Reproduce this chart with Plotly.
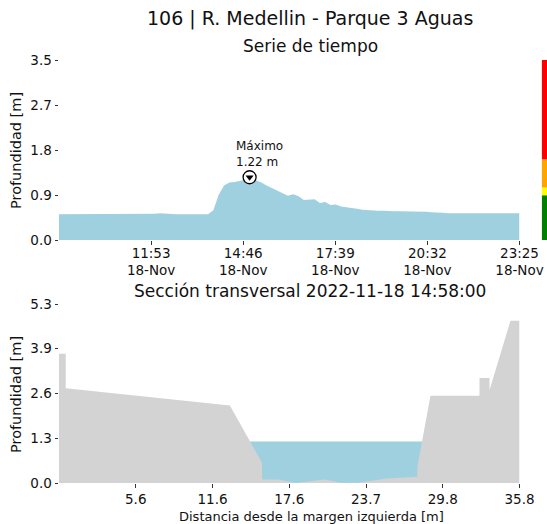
import pandas as pd
import numpy as np
import plotly.graph_objects as go

# ---------------- data ----------------
station_title = "106 | R. Medellin - Parque 3 Aguas"
ts_title = "Serie de tiempo"
xs_title = "Sección transversal 2022-11-18 14:58:00"

ts_times = sorted(
    list(pd.date_range("2022-11-18 09:00", "2022-11-18 23:20", freq="10min"))
    + [pd.Timestamp("2022-11-18 14:58"), pd.Timestamp("2022-11-18 23:25")]
)
ts_depth = [
    0.50, 0.50, 0.50, 0.51, 0.51, 0.51,
    0.51, 0.51, 0.50, 0.50, 0.50, 0.50,
    0.50, 0.50, 0.50, 0.50, 0.50, 0.51,
    0.51, 0.52, 0.51, 0.51, 0.50, 0.50,
    0.50, 0.49, 0.49, 0.49, 0.50, 0.58,
    0.88, 1.06, 1.12, 1.13, 1.15, 1.17, 1.22,
    1.18, 1.16, 1.12, 1.06, 1.01, 0.95,
    0.91, 0.86, 0.89, 0.85, 0.78, 0.79,
    0.79, 0.72, 0.74, 0.68, 0.69, 0.65,
    0.64, 0.63, 0.61, 0.59, 0.58, 0.58,
    0.57, 0.57, 0.56, 0.56, 0.56, 0.56,
    0.55, 0.55, 0.55, 0.55, 0.54, 0.54,
    0.53, 0.52, 0.52, 0.52, 0.52, 0.52,
    0.52, 0.52, 0.52, 0.52, 0.52, 0.52,
    0.52, 0.52, 0.52, 0.52,
]
peak_time = pd.Timestamp("2022-11-18 14:58")
peak_depth = 1.22

time_ticks = ["2022-11-18 11:53", "2022-11-18 14:46", "2022-11-18 17:39",
              "2022-11-18 20:32", "2022-11-18 23:25"]
time_tick_labels = ["11:53<br>18-Nov", "14:46<br>18-Nov", "17:39<br>18-Nov",
                    "20:32<br>18-Nov", "23:25<br>18-Nov"]
ts_range = ["2022-11-18 09:00", "2022-11-18 23:25"]
ts_ymax = 3.5
ts_ytick_labels = ["0.0", "0.9", "1.8", "2.7", "3.5"]

# alert levels (colour bar)
level_bounds = [0.0, 0.87, 1.02, 1.57, 3.5]
level_colors = ["#008000", "#ffff00", "#ffa500", "#ff0000"]

# cross section
xs_dist = [-0.45, -0.45, 0.08, 0.08, 13.0, 15.52, 15.55, 16.81, 18.15, 20.51,
           21.7, 23.03, 25.4, 27.76, 27.76, 28.79, 32.65, 32.65, 33.44, 33.44,
           35.09, 35.8, 35.8]
xs_elev = [0.0, 3.79, 3.79, 2.78, 2.27, 0.60, 0.10, 0.10, 0.0, 0.10,
           0.01, 0.01, 0.13, 0.18, 0.48, 2.56, 2.56, 3.08, 3.08, 2.73,
           4.76, 4.76, 0.0]
water_level = 1.22
water_extent = [13.0, 29.0]
xs_xmin, xs_xmax = -0.45, 35.8
xs_ymax = 5.25
xs_ytick_labels = ["0.0", "1.3", "2.6", "3.9", "5.3"]
xs_xtick_labels = ["5.6", "11.6", "17.6", "23.7", "29.8", "35.8"]

# ---------------- layout helpers ----------------
W, H = 547, 524
ML, MR, MT, MB = 59, 0, 60, 41
PW, PH = W - ML - MR, H - MT - MB


def px_x(px):
    """picture x pixel -> paper fraction"""
    return (px - ML) / PW


def px_y(py):
    """picture y pixel -> paper fraction"""
    return (H - MB - py) / PH


FONT = "DejaVu Sans"
BLUE = "#9ed0e0"
GRAY = "#d3d3d3"

fig = go.Figure()

# time series
fig.add_trace(go.Scatter(x=ts_times, y=ts_depth, mode="lines", fill="tozeroy",
                         fillcolor=BLUE, line=dict(width=0, color=BLUE),
                         xaxis="x", yaxis="y", hoverinfo="skip"))
fig.add_trace(go.Scatter(x=[peak_time], y=[peak_depth], mode="markers",
                         marker=dict(symbol="circle", size=13, color="white",
                                     line=dict(color="black", width=1.3)),
                         xaxis="x", yaxis="y"))
fig.add_trace(go.Scatter(x=[peak_time], y=[peak_depth], mode="markers",
                         marker=dict(symbol="triangle-down", size=7, color="black"),
                         xaxis="x", yaxis="y"))

# alert colour bar
fig.add_trace(go.Bar(x=[0] * 4,
                     y=[level_bounds[i + 1] - level_bounds[i] for i in range(4)],
                     base=level_bounds[:-1], marker=dict(color=level_colors, line=dict(width=0)),
                     width=1, xaxis="x3", yaxis="y", hoverinfo="skip"))

# cross section
fig.add_trace(go.Scatter(x=water_extent, y=[water_level] * 2, mode="lines",
                         fill="tozeroy", fillcolor=BLUE, line=dict(width=0, color=BLUE),
                         xaxis="x2", yaxis="y2"))
fig.add_trace(go.Scatter(x=xs_dist, y=xs_elev, mode="lines", fill="tozeroy",
                         fillcolor=GRAY, line=dict(width=0, color=GRAY),
                         xaxis="x2", yaxis="y2"))

tick_font = dict(family=FONT, size=13.5, color="#111")
common_ax = dict(showgrid=False, zeroline=False, showline=False, ticks="outside",
                 ticklen=3.5, tickwidth=1, tickcolor="#333", tickfont=tick_font,
                 automargin=False)

x_dom = [0, px_x(519.5)]
fig.update_layout(
    width=W, height=H, margin=dict(l=ML, r=MR, t=MT, b=MB, autoexpand=False),
    paper_bgcolor="white", plot_bgcolor="white", showlegend=False,
    barmode="overlay",
    xaxis=dict(domain=x_dom, anchor="y", range=ts_range, tickvals=time_ticks,
               ticktext=time_tick_labels, ticklabelstandoff=-3, **common_ax),
    yaxis=dict(domain=[px_y(240), 1], anchor="x", range=[0, ts_ymax],
               tickvals=list(np.linspace(0, ts_ymax, 5)), ticktext=ts_ytick_labels,
               **common_ax),
    xaxis3=dict(domain=[px_x(541.7), 1], anchor="y", range=[-0.5, 0.5], visible=False,
                automargin=False),
    xaxis2=dict(domain=x_dom, anchor="y2", range=[xs_xmin, xs_xmax],
                tickvals=list(np.linspace(xs_xmin, xs_xmax, 7)[1:]),
                ticktext=xs_xtick_labels, **common_ax),
    yaxis2=dict(domain=[0, px_y(304)], anchor="x2", range=[0, xs_ymax],
                tickvals=list(np.linspace(0, xs_ymax, 5)), ticktext=xs_ytick_labels,
                **common_ax),
)

ann = [
    dict(text=station_title, x=px_x(310), y=px_y(19), size=19),
    dict(text=ts_title, x=px_x(310), y=px_y(46), size=17),
    dict(text=xs_title, x=px_x(310), y=px_y(291), size=17),
    dict(text="Distancia desde la margen izquierda [m]", x=px_x(311), y=px_y(516), size=13),
]
for a in ann:
    fig.add_annotation(text=a["text"], xref="paper", yref="paper", x=a["x"], y=a["y"],
                       xanchor="center", yanchor="middle", showarrow=False,
                       font=dict(family=FONT, size=a["size"], color="#111"))
for yc in (151, 395):
    fig.add_annotation(text="Profundidad [m]", xref="paper", yref="paper",
                       x=px_x(16), y=px_y(yc), xanchor="center", yanchor="middle",
                       textangle=-90, showarrow=False,
                       font=dict(family=FONT, size=14.5, color="#111"))

fig.add_annotation(text="Máximo<br>%.2f m" % peak_depth, x=peak_time, y=peak_depth,
                   xref="x", yref="y", xanchor="left", yanchor="middle", align="left",
                   xshift=-16, yshift=23, showarrow=False,
                   font=dict(family=FONT, size=12, color="#111"))

# remove the page's default body margin so the figure sits at the window origin
fig.write_html("out.html",
               config={"displayModeBar": False},
               post_script="document.body.style.margin='0px';"
                           "document.body.style.overflow='hidden';")
